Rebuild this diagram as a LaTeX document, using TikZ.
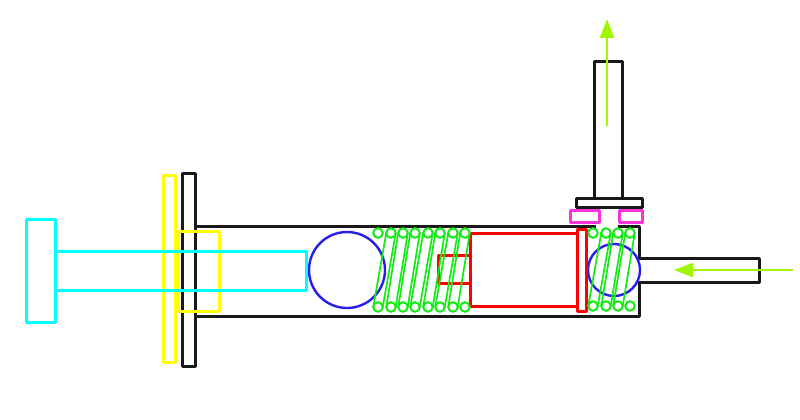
\documentclass[tikz,border=0pt]{standalone}
\usepackage{xcolor}
\usepackage{tikz}
\usetikzlibrary{arrows.meta}
\definecolor{limeflow}{RGB}{160,245,0}
\definecolor{ballblue}{RGB}{40,30,235}
\definecolor{padpink}{RGB}{250,50,220}
\definecolor{purecyan}{RGB}{0,255,255}
\definecolor{pureyellow}{RGB}{255,255,0}
\definecolor{purered}{RGB}{255,0,0}
\definecolor{coilgreen}{RGB}{20,235,20}
\definecolor{darkline}{RGB}{25,25,25}
\tikzset{
  part/.style={line width=3pt,line join=round,draw=darkline},
  coil/.style={coilgreen,line width=1.7pt},
  coilring/.style={circle,draw=coilgreen,line width=2pt,minimum size=9.5pt,inner sep=0pt,outer sep=0pt},
  flow/.style={limeflow,line width=2pt,-{Triangle[length=19pt,width=14pt]}}
}
\begin{document}
\begin{tikzpicture}[x=1pt,y=-1pt]
\useasboundingbox (0,0) rectangle (800,420);

% housing
\draw[part] (195,226) -- (596,226);
\draw[part] (618,226) -- (639,226) -- (639,258) -- (759,258) -- (759,282) -- (639,282) -- (639,316) -- (195,316);
\draw[part] (182,173) rectangle (195,366);
\draw[part] (594,197) -- (594,62) -- (622,62) -- (622,197);
\draw[part] (576,198) rectangle (642,207);

% balls
\draw[ballblue,line width=2.4pt] (347,270) circle (38);
\draw[ballblue,line width=2.4pt] (614,270) circle (26);

% piston
\draw[part,draw=purered] (470,233) rectangle (577,306);
\draw[part,draw=purered] (470,255) -- (438,255) -- (438,283) -- (470,283);
\draw[part,draw=purered] (577,229) rectangle (586,311);

% seats
\draw[part,draw=padpink] (570,210) rectangle (599,222);
\draw[part,draw=padpink] (619,210) rectangle (642,222);

% plunger
\draw[part,draw=pureyellow] (163,175) rectangle (175,362);
\draw[part,draw=pureyellow] (178,231) rectangle (219,311);
\draw[part,draw=purecyan] (26,219) rectangle (55,322);
\draw[part,draw=purecyan] (55,251) rectangle (306,290);

% long spring
\foreach \n/\x in {1/378,2/391,3/403,4/415,5/428,6/440,7/453,8/465}{
  \node[coilring] (top\n) at (\x,233) {};
  \node[coilring] (bot\n) at (\x,307) {};
}
\foreach \a/\b in {2/1,3/2,4/3,5/4,6/5,7/6,8/7}{
  \draw[coil] (top\a.west) -- (bot\b.west);
  \draw[coil] (top\a.east) -- (bot\b.east);
}

% short spring
\foreach \n/\x in {1/593,2/606,3/618,4/630}{
  \node[coilring] (utop\n) at (\x,233) {};
  \node[coilring] (ubot\n) at (\x,306) {};
}
\foreach \a/\b in {2/1,3/2,4/3}{
  \draw[coil] (utop\a.west) -- (ubot\b.west);
  \draw[coil] (utop\a.east) -- (ubot\b.east);
}

% flow arrows
\coordinate (outA) at (607,126);
\coordinate (outB) at (607,19);
\coordinate (inA) at (793,270);
\coordinate (inB) at (674,270);
\draw[flow] (outA) -- (outB);
\draw[flow] (inA) -- (inB);
\end{tikzpicture}
\end{document}
